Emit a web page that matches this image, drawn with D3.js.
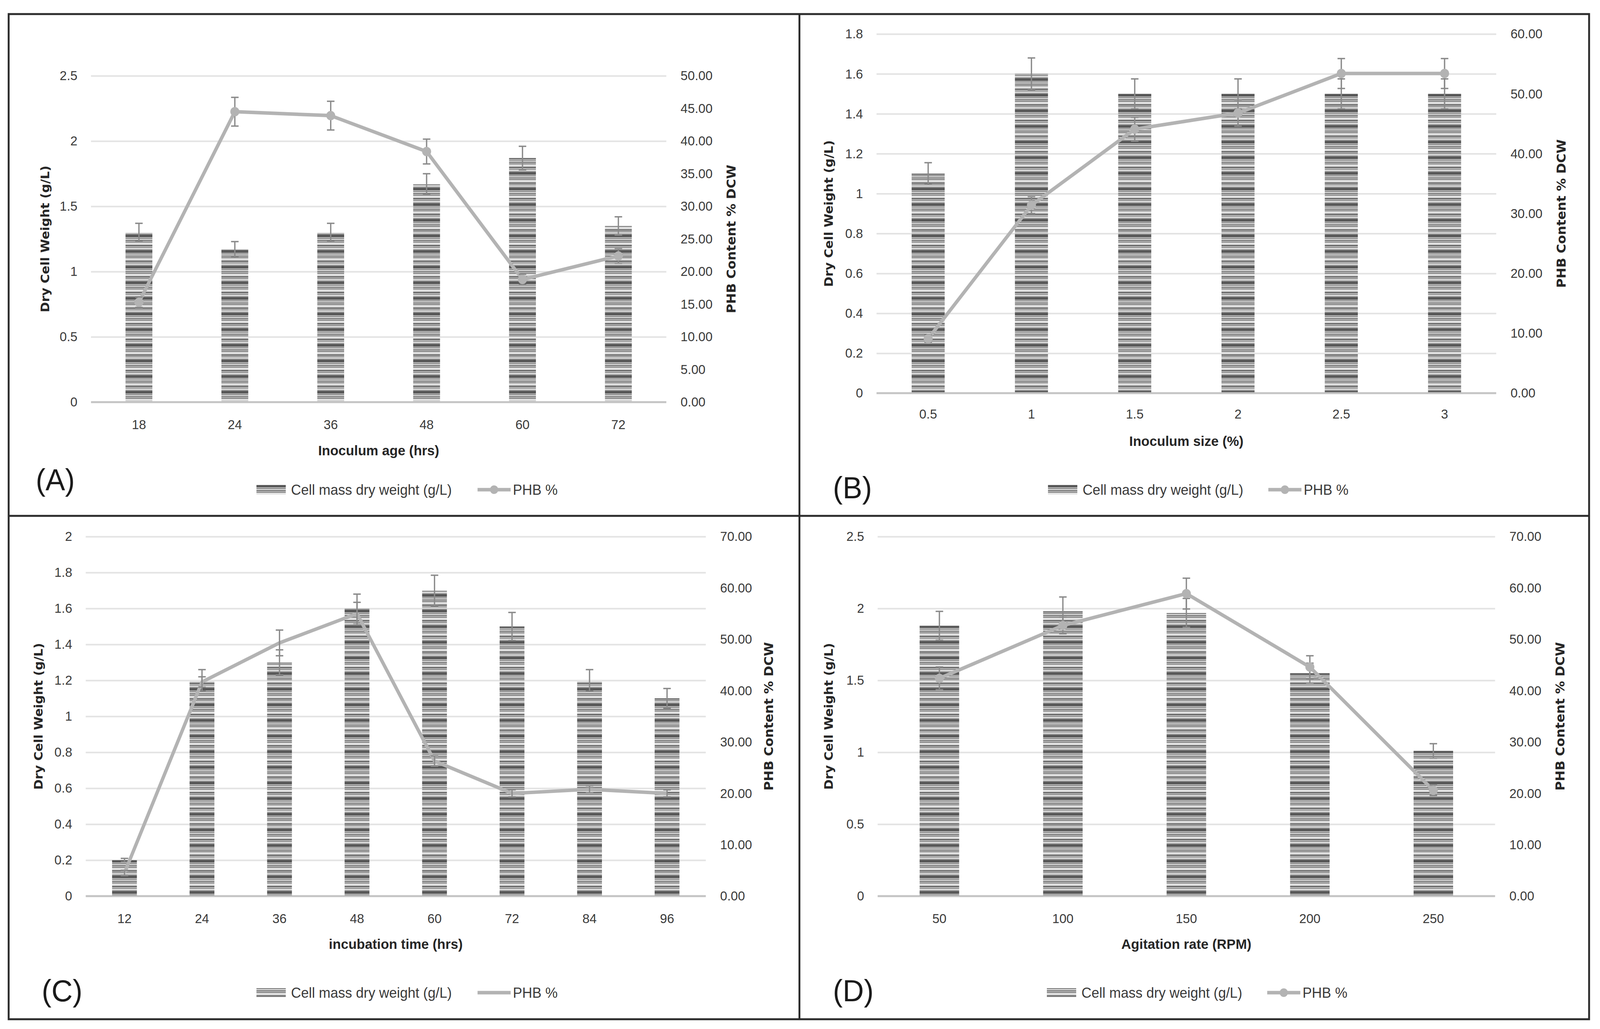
<!DOCTYPE html>
<html>
<head>
<meta charset="utf-8">
<script src="https://cdn.jsdelivr.net/npm/d3@7"></script>
<style>
  html, body { margin: 0; padding: 0; background: #fff; overflow: hidden; }
  svg { display: block; width: 100vw; height: 100vh; }
</style>
</head>
<body>
<svg id="chart" viewBox="0 0 4255 2633" preserveAspectRatio="none"></svg>
<script>
// (A) inoculum age
const ageHrs = ["18", "24", "36", "48", "60", "72"];
const ageDcw = [1.30, 1.17, 1.30, 1.67, 1.87, 1.35];
const ageDcwErr = [0.07, 0.06, 0.07, 0.08, 0.09, 0.07];
const agePhb = [15.3, 44.5, 43.9, 38.4, 18.8, 22.4];
const agePhbErr = [0.8, 2.2, 2.2, 1.9, 0.8, 1.1];
const ageLeftTicks = [0, 0.5, 1, 1.5, 2, 2.5];
const ageRightTicks = [0, 5, 10, 15, 20, 25, 30, 35, 40, 45, 50];

// (B) inoculum size
const sizePct = ["0.5", "1", "1.5", "2", "2.5", "3"];
const sizeDcw = [1.10, 1.60, 1.50, 1.50, 1.50, 1.50];
const sizeDcwErr = [0.055, 0.08, 0.075, 0.075, 0.075, 0.075];
const sizePhb = [9.1, 31.4, 44.1, 46.8, 53.4, 53.4];
const sizePhbErr = [0.6, 1.4, 2.0, 2.2, 2.5, 2.5];
const sizeLeftTicks = [0, 0.2, 0.4, 0.6, 0.8, 1, 1.2, 1.4, 1.6, 1.8];
const sizeRightTicks = [0, 10, 20, 30, 40, 50, 60];

// (C) incubation time
const timeHrs = ["12", "24", "36", "48", "60", "72", "84", "96"];
const timeDcw = [0.20, 1.20, 1.30, 1.60, 1.70, 1.50, 1.20, 1.10];
const timeDcwErr = [0.01, 0.06, 0.07, 0.08, 0.085, 0.078, 0.06, 0.055];
const timePhb = [4.5, 41.7, 49.3, 55.0, 26.3, 20.0, 20.8, 20.0];
const timePhbErr = [0.5, 1.0, 2.5, 2.2, 1.0, 0.7, 0.7, 0.7];
const timeLeftTicks = [0, 0.2, 0.4, 0.6, 0.8, 1, 1.2, 1.4, 1.6, 1.8, 2];
const timeRightTicks = [0, 10, 20, 30, 40, 50, 60, 70];

// (D) agitation rate
const rpm = ["50", "100", "150", "200", "250"];
const rpmDcw = [1.88, 1.98, 1.97, 1.55, 1.01];
const rpmDcwErr = [0.10, 0.10, 0.10, 0.07, 0.05];
const rpmPhb = [42.4, 52.7, 58.9, 44.6, 20.6];
const rpmPhbErr = [2.2, 1.6, 3.0, 2.2, 1.0];
const rpmLeftTicks = [0, 0.5, 1, 1.5, 2, 2.5];
const rpmRightTicks = [0, 10, 20, 30, 40, 50, 60, 70];

const barLabel = "Cell mass dry weight (g/L)";
const lineLabel = "PHB %";
const leftTitle = "Dry Cell Weight (g/L)";
const rightTitle = "PHB Content % DCW";

const FONT = "'Liberation Sans', Arial, sans-serif";
const BOLD_FONT = "'DejaVu Sans', Verdana, sans-serif";
const LINE_COL = "#b3b3b3";
const ERR_COL = "#8a8a8a";

const svg = d3.select("#chart");
svg.append("rect").attr("width", 4255).attr("height", 2633).attr("fill", "#fff");

// striped fill, like the Excel horizontal pattern
const stripeBands = [
	[7, "#595959"], [2, "#c8c8c8"], [2, "#7a7a7a"], [3, "#dadada"], [2, "#666666"],
	[2, "#bfbfbf"], [3, "#8c8c8c"], [3, "#e8e8e8"], [3, "#cfcfcf"], [3, "#5e5e5e"],
	[2, "#d0d0d0"], [2, "#777777"], [3, "#e2e2e2"], [3, "#a6a6a6"]
];
const patH = d3.sum(stripeBands, d => d[0]);
const pat = svg.append("defs").append("pattern")
	.attr("id", "stripes")
	.attr("patternUnits", "userSpaceOnUse")
	.attr("width", 10).attr("height", patH);
let acc = 0;
stripeBands.forEach(([h, c]) => {
	pat.append("rect").attr("x", 0).attr("y", acc).attr("width", 10).attr("height", h).attr("fill", c);
	acc += h;
});

const panels = [
	{ tag: "(A)", cats: ageHrs, dcw: ageDcw, dcwErr: ageDcwErr, phb: agePhb, phbErr: agePhbErr,
		leftTicks: ageLeftTicks, rightTicks: ageRightTicks, xTitle: "Inoculum age (hrs)", markers: true,
		x0: 242, x1: 1772, y0: 1029, y1: 194, barRatio: 0.28,
		leftTitleX: 120, rightTitleX: 1945, xTickY: 1086, xTitleY: 1152,
		tagX: 95, tagY: 1255, legY: 1253, legX: 682, legX2: 1270 },
	{ tag: "(B)", cats: sizePct, dcw: sizeDcw, dcwErr: sizeDcwErr, phb: sizePhb, phbErr: sizePhbErr,
		leftTicks: sizeLeftTicks, rightTicks: sizeRightTicks, xTitle: "Inoculum size (%)", markers: true,
		x0: 2331, x1: 3979, y0: 1006, y1: 87, barRatio: 0.32,
		leftTitleX: 2204, rightTitleX: 4152, xTickY: 1059, xTitleY: 1128,
		tagX: 2215, tagY: 1275, legY: 1253, legX: 2787, legX2: 3373 },
	{ tag: "(C)", cats: timeHrs, dcw: timeDcw, dcwErr: timeDcwErr, phb: timePhb, phbErr: timePhbErr,
		leftTicks: timeLeftTicks, rightTicks: timeRightTicks, xTitle: "incubation time (hrs)", markers: false,
		x0: 228, x1: 1877, y0: 2293, y1: 1373, barRatio: 0.32,
		leftTitleX: 102, rightTitleX: 2044, xTickY: 2350, xTitleY: 2415,
		tagX: 111, tagY: 2562, legY: 2540, legX: 682, legX2: 1270 },
	{ tag: "(D)", cats: rpm, dcw: rpmDcw, dcwErr: rpmDcwErr, phb: rpmPhb, phbErr: rpmPhbErr,
		leftTicks: rpmLeftTicks, rightTicks: rpmRightTicks, xTitle: "Agitation rate (RPM)", markers: true,
		x0: 2334, x1: 3976, y0: 2293, y1: 1373, barRatio: 0.32,
		leftTitleX: 2204, rightTitleX: 4149, xTickY: 2350, xTitleY: 2415,
		tagX: 2215, tagY: 2562, legY: 2540, legX: 2784, legX2: 3370 }
];

function errBar(g, cx, yLo, yHi) {
	g.append("line").attr("x1", cx).attr("x2", cx).attr("y1", yLo).attr("y2", yHi);
	g.append("line").attr("x1", cx - 10).attr("x2", cx + 10).attr("y1", yLo).attr("y2", yLo);
	g.append("line").attr("x1", cx - 10).attr("x2", cx + 10).attr("y1", yHi).attr("y2", yHi);
}

function drawPanel(p) {
	const g = svg.append("g");
	const x = d3.scaleBand().domain(p.cats).range([p.x0, p.x1])
		.paddingInner(1 - p.barRatio).paddingOuter((1 - p.barRatio) / 2);
	const yL = d3.scaleLinear().domain([0, d3.max(p.leftTicks)]).range([p.y0, p.y1]);
	const yR = d3.scaleLinear().domain([0, d3.max(p.rightTicks)]).range([p.y0, p.y1]);
	const cx = c => x(c) + x.bandwidth() / 2;

	// gridlines
	g.append("g")
		.attr("transform", `translate(${p.x0},0)`)
		.call(d3.axisLeft(yL).tickValues(p.leftTicks.slice(1)).tickSize(-(p.x1 - p.x0)).tickFormat(""))
		.call(a => a.select(".domain").remove())
		.selectAll("line").attr("stroke", "#e3e3e3").attr("stroke-width", 4);

	// left tick labels
	const gl = g.append("g")
		.attr("transform", `translate(${p.x0 - 36},0)`)
		.call(d3.axisLeft(yL).tickValues(p.leftTicks).tickSize(0).tickPadding(0).tickFormat(d3.format("")));
	gl.select(".domain").remove();
	gl.selectAll("text").attr("font-family", FONT).attr("font-size", 34).attr("fill", "#3a3a3a");

	// right tick labels
	const gr = g.append("g")
		.attr("transform", `translate(${p.x1 + 38},0)`)
		.call(d3.axisRight(yR).tickValues(p.rightTicks).tickSize(0).tickPadding(0).tickFormat(d3.format(".2f")));
	gr.select(".domain").remove();
	gr.selectAll("text").attr("font-family", FONT).attr("font-size", 34).attr("fill", "#3a3a3a");

	// bars
	g.append("g").selectAll("rect")
		.data(p.cats)
		.join("rect")
		.attr("x", d => x(d))
		.attr("y", (d, i) => yL(p.dcw[i]))
		.attr("width", x.bandwidth())
		.attr("height", (d, i) => yL(0) - yL(p.dcw[i]))
		.attr("fill", "url(#stripes)");

	// x axis (zero line + category labels)
	const gx = g.append("g")
		.attr("transform", `translate(0,${p.y0})`)
		.call(d3.axisBottom(x).tickSize(0).tickSizeOuter(0));
	gx.select(".domain").attr("stroke", "#c4c4c4").attr("stroke-width", 5)
		.attr("d", `M${p.x0},0H${p.x1}`);
	gx.selectAll("text")
		.attr("y", p.xTickY - p.y0).attr("dy", "0.35em")
		.attr("font-family", FONT).attr("font-size", 34).attr("fill", "#3a3a3a");

	// bar error bars
	const ge = g.append("g").attr("stroke", ERR_COL).attr("stroke-width", 3.5);
	p.cats.forEach((c, i) => errBar(ge, cx(c), yL(p.dcw[i] - p.dcwErr[i]), yL(p.dcw[i] + p.dcwErr[i])));

	// PHB line
	const line = d3.line().x((d, i) => cx(p.cats[i])).y(d => yR(d));
	g.append("path")
		.attr("d", line(p.phb))
		.attr("fill", "none")
		.attr("stroke", LINE_COL)
		.attr("stroke-width", 9)
		.attr("stroke-linejoin", "round");

	const gpe = g.append("g").attr("stroke", ERR_COL).attr("stroke-width", 3.5);
	p.cats.forEach((c, i) => errBar(gpe, cx(c), yR(p.phb[i] - p.phbErr[i]), yR(p.phb[i] + p.phbErr[i])));

	if (p.markers) {
		g.append("g").selectAll("circle")
			.data(p.phb)
			.join("circle")
			.attr("cx", (d, i) => cx(p.cats[i]))
			.attr("cy", d => yR(d))
			.attr("r", 12)
			.attr("fill", LINE_COL);
	}

	// axis titles
	const midY = (p.y0 + p.y1) / 2;
	g.append("text")
		.attr("transform", `translate(${p.leftTitleX},${midY}) rotate(-90)`)
		.attr("text-anchor", "middle").attr("dy", "0.35em")
		.attr("font-family", BOLD_FONT).attr("font-weight", "bold").attr("font-size", 32).attr("fill", "#262626")
		.text(leftTitle);
	g.append("text")
		.attr("transform", `translate(${p.rightTitleX},${midY}) rotate(-90)`)
		.attr("text-anchor", "middle").attr("dy", "0.35em")
		.attr("font-family", BOLD_FONT).attr("font-weight", "bold").attr("font-size", 33).attr("fill", "#262626")
		.text(rightTitle);
	g.append("text")
		.attr("x", (p.x0 + p.x1) / 2).attr("y", p.xTitleY).attr("dy", "0.35em")
		.attr("text-anchor", "middle")
		.attr("font-family", FONT).attr("font-weight", "bold").attr("font-size", 36).attr("fill", "#262626")
		.text(p.xTitle);

	// panel tag
	g.append("text")
		.attr("x", p.tagX).attr("y", p.tagY)
		.attr("font-family", FONT).attr("font-size", 78).attr("fill", "#1a1a1a")
		.text(p.tag);

	// legend
	const lg = g.append("g");
	lg.append("rect")
		.attr("x", p.legX).attr("y", p.legY - 12).attr("width", 78).attr("height", 24)
		.attr("fill", "url(#stripes)");
	lg.append("text")
		.attr("x", p.legX + 92).attr("y", p.legY).attr("dy", "0.35em")
		.attr("font-family", FONT).attr("font-size", 37).attr("fill", "#3a3a3a")
		.text(barLabel);
	lg.append("line")
		.attr("x1", p.legX2).attr("x2", p.legX2 + 88).attr("y1", p.legY).attr("y2", p.legY)
		.attr("stroke", LINE_COL).attr("stroke-width", 9);
	if (p.markers) {
		lg.append("circle").attr("cx", p.legX2 + 44).attr("cy", p.legY).attr("r", 11).attr("fill", LINE_COL);
	}
	lg.append("text")
		.attr("x", p.legX2 + 94).attr("y", p.legY).attr("dy", "0.35em")
		.attr("font-family", FONT).attr("font-size", 37).attr("fill", "#3a3a3a")
		.text(lineLabel);
}

panels.forEach(drawPanel);

// panel frame
const frame = svg.append("g").attr("stroke", "#2b2b2b").attr("stroke-width", 5).attr("fill", "none");
frame.append("rect").attr("x", 23).attr("y", 36).attr("width", 4226 - 23).attr("height", 2608 - 36);
frame.append("line").attr("x1", 2126).attr("x2", 2126).attr("y1", 36).attr("y2", 2608);
frame.append("line").attr("x1", 23).attr("x2", 4226).attr("y1", 1320).attr("y2", 1320);
</script>
</body>
</html>
